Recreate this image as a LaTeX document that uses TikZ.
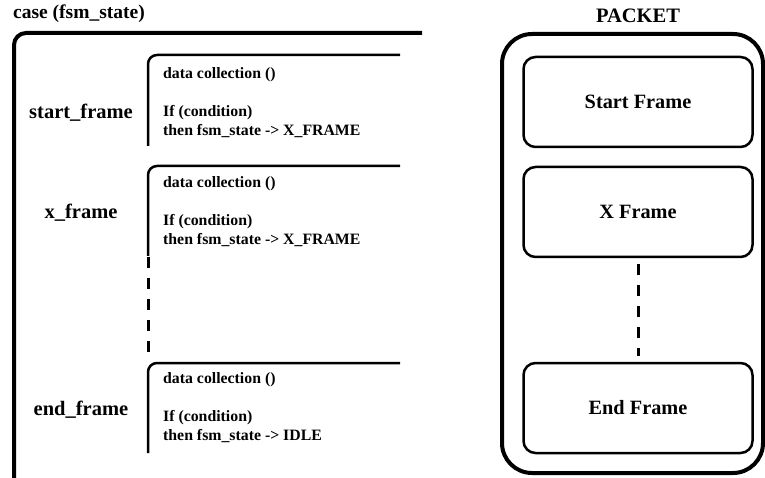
\documentclass[tikz,border=0pt]{standalone}
\usepackage{fontspec}
\setmainfont{Liberation Serif}
\usetikzlibrary{calc}
\begin{document}
\begin{tikzpicture}[x=1pt,y=-1pt,
  title/.style={font=\fontsize{19.5}{22}\selectfont\bfseries, inner sep=0pt},
  label/.style={font=\fontsize{20.5}{23}\selectfont\bfseries, inner sep=0pt},
  code/.style={font=\fontsize{15.8}{18}\selectfont\bfseries, anchor=west, inner sep=0pt},
  frame/.style={draw, line width=2.5pt, rounded corners=12pt, minimum width=229pt, minimum height=90pt, font=\fontsize{20.3}{23}\selectfont\bfseries},
  bracket/.style={line width=2.5pt, rounded corners=9pt},
  bigbracket/.style={line width=4pt, rounded corners=12pt},
  dashline/.style={line width=3pt, dash pattern=on 11pt off 10pt}]
\useasboundingbox (0,0) rectangle (765,478);

% left side
\node[title, anchor=west] (case) at (13,14) {case (fsm\_state)};
\draw[bigbracket] (14,480) -- (14,33) -- (422,33);

\draw[bracket] (148,146) -- (148,55) -- (400,55);
\node[label] (sf) at (81,113) {start\_frame};
\node[code] (d1) at (163,75) {data collection ()};
\node[code] (i1) at (163,113) {If (condition)};
\node[code] (t1) at (163,131) {then fsm\_state -> X\_FRAME};

\draw[bracket] (148,256) -- (148,166) -- (400,166);
\draw[dashline] (148,257) -- (148,356);
\node[label] (xf) at (81,213) {x\_frame};
\node[code] (d2) at (163,184) {data collection ()};
\node[code] (i2) at (163,222) {If (condition)};
\node[code] (t2) at (163,240) {then fsm\_state -> X\_FRAME};

\draw[bracket] (148,453) -- (148,363) -- (400,363);
\node[label] (ef) at (81,410) {end\_frame};
\node[code] (d3) at (163,380) {data collection ()};
\node[code] (i3) at (163,418) {If (condition)};
\node[code] (t3) at (163,436) {then fsm\_state -> IDLE};

% right side
\node[title, font=\fontsize{20.5}{23}\selectfont\bfseries] (packet) at (638,16) {PACKET};
\draw[line width=4pt, rounded corners=30pt] (502,34) rectangle (763,473);
\node[frame] (start) at (638,102) {Start Frame};
\node[frame] (xframe) at (638,212) {X Frame};
\node[frame] (end) at (638,408) {End Frame};
\draw[dashline] ($(xframe.south)+(0,6)$) -- ($(end.north)+(0,-6)$);
\end{tikzpicture}
\end{document}
